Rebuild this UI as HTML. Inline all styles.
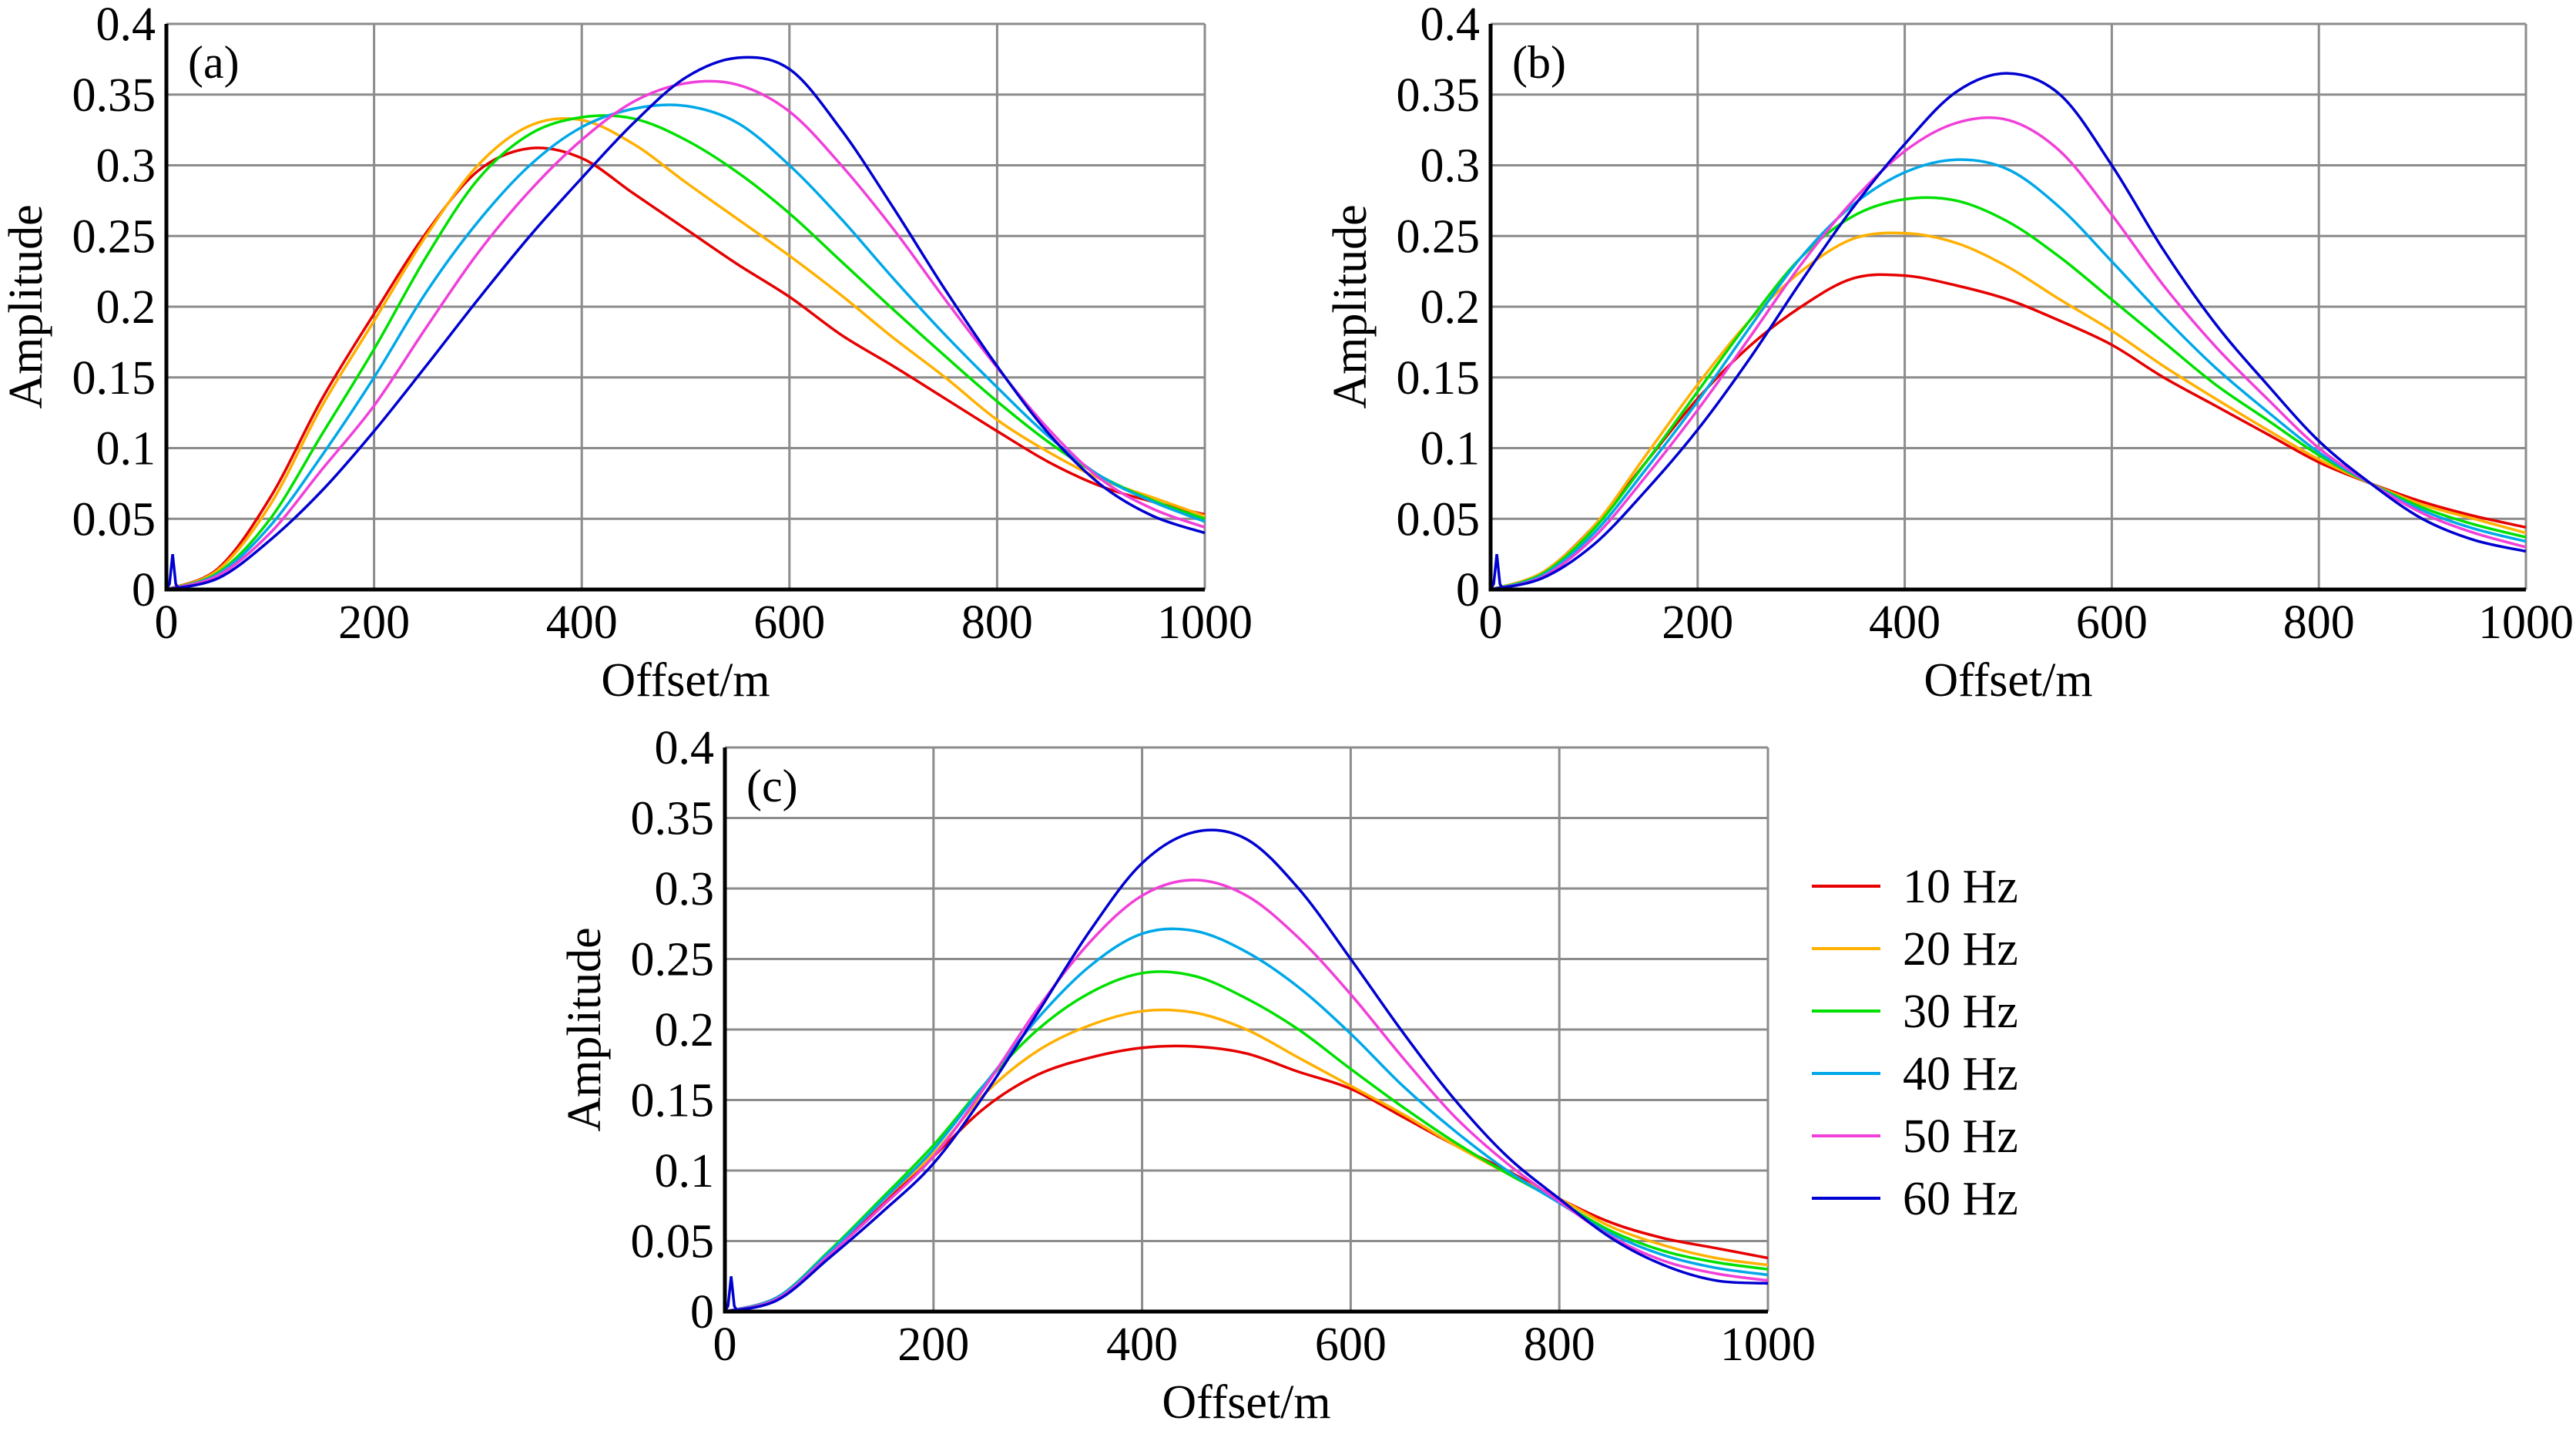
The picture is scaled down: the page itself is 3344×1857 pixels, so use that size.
<!DOCTYPE html>
<html><head><meta charset="utf-8"><style>
html,body{margin:0;padding:0;background:#fff;}
svg{display:block;}
text{font-family:"Liberation Serif","Times New Roman",serif;}
</style></head><body>
<svg id="fig" width="3344" height="1857" viewBox="0 0 3344 1857"></svg>
<script>
const offsets=[0,50,100,150,200,250,300,350,400,450,500,550,600,650,700,750,800,850,900,950,1000];
const seriesNames=["10 Hz","20 Hz","30 Hz","40 Hz","50 Hz","60 Hz"];
const seriesColors=["#e60000","#ffb000","#00e000","#00a8e8","#f040d8","#0000d0"];
const xTicks=[0,200,400,600,800,1000];
const yTicks=[0,0.05,0.1,0.15,0.2,0.25,0.3,0.35,0.4];
const yTickLabels=["0","0.05","0.1","0.15","0.2","0.25","0.3","0.35","0.4"];
const spikeX=[0,3,6,9,12];
const spikeY=[0,0.004,0.025,0.004,0];
const a10=[0,0.015,0.065,0.135,0.195,0.252,0.296,0.312,0.305,0.28,0.255,0.23,0.207,0.18,0.158,0.135,0.112,0.09,0.073,0.062,0.053];
const a20=[0,0.014,0.06,0.13,0.19,0.25,0.3,0.328,0.332,0.315,0.288,0.262,0.236,0.208,0.178,0.15,0.12,0.097,0.078,0.065,0.052];
const a30=[0,0.012,0.05,0.11,0.17,0.235,0.29,0.322,0.334,0.333,0.318,0.295,0.266,0.232,0.198,0.165,0.133,0.104,0.08,0.063,0.05];
const a40=[0,0.011,0.045,0.095,0.15,0.21,0.26,0.3,0.327,0.34,0.342,0.33,0.3,0.262,0.22,0.18,0.143,0.108,0.08,0.062,0.048];
const a50=[0,0.01,0.04,0.085,0.13,0.185,0.238,0.282,0.318,0.345,0.358,0.357,0.338,0.3,0.255,0.205,0.157,0.113,0.078,0.057,0.044];
const a60=[0,0.008,0.035,0.07,0.112,0.158,0.205,0.25,0.291,0.33,0.362,0.376,0.368,0.325,0.27,0.212,0.158,0.11,0.074,0.052,0.04];
const b10=[0,0.012,0.045,0.09,0.135,0.172,0.2,0.22,0.222,0.215,0.205,0.19,0.173,0.15,0.13,0.11,0.09,0.075,0.062,0.052,0.044];
const b20=[0,0.012,0.045,0.095,0.145,0.19,0.225,0.248,0.252,0.245,0.228,0.205,0.183,0.158,0.135,0.113,0.092,0.075,0.06,0.05,0.04];
const b30=[0,0.011,0.043,0.09,0.14,0.19,0.235,0.264,0.276,0.275,0.26,0.235,0.205,0.175,0.145,0.12,0.095,0.075,0.058,0.046,0.037];
const b40=[0,0.01,0.04,0.085,0.133,0.185,0.235,0.272,0.295,0.304,0.297,0.27,0.232,0.193,0.157,0.126,0.097,0.075,0.056,0.043,0.034];
const b50=[0,0.009,0.037,0.08,0.127,0.178,0.23,0.275,0.31,0.33,0.332,0.31,0.265,0.215,0.172,0.135,0.1,0.075,0.054,0.04,0.03];
const b60=[0,0.008,0.032,0.07,0.113,0.163,0.218,0.27,0.315,0.352,0.365,0.35,0.3,0.24,0.188,0.145,0.105,0.075,0.05,0.035,0.027];
const c10=[0,0.01,0.04,0.075,0.11,0.145,0.168,0.18,0.187,0.188,0.183,0.17,0.158,0.138,0.118,0.1,0.08,0.063,0.052,0.045,0.038];
const c20=[0,0.01,0.042,0.078,0.112,0.155,0.185,0.203,0.213,0.212,0.2,0.18,0.16,0.14,0.118,0.098,0.08,0.06,0.047,0.038,0.033];
const c30=[0,0.01,0.043,0.08,0.118,0.162,0.2,0.226,0.24,0.238,0.222,0.2,0.172,0.145,0.12,0.098,0.078,0.057,0.043,0.035,0.03];
const c40=[0,0.01,0.042,0.078,0.115,0.162,0.208,0.245,0.268,0.27,0.255,0.23,0.197,0.16,0.128,0.1,0.077,0.055,0.04,0.031,0.026];
const c50=[0,0.009,0.04,0.074,0.11,0.16,0.215,0.262,0.295,0.306,0.295,0.265,0.225,0.18,0.138,0.105,0.078,0.053,0.036,0.027,0.022];
const c60=[0,0.008,0.038,0.07,0.105,0.155,0.212,0.27,0.318,0.34,0.335,0.3,0.25,0.198,0.15,0.11,0.08,0.052,0.033,0.022,0.02];

const panels=[
 {id:"a",label:"(a)",L:216,R:1564,T:31,B:765,series:[a10,a20,a30,a40,a50,a60]},
 {id:"b",label:"(b)",L:1935,R:3279,T:31,B:765,series:[b10,b20,b30,b40,b50,b60]},
 {id:"c",label:"(c)",L:941,R:2295,T:970,B:1702,series:[c10,c20,c30,c40,c50,c60]}
];
const NS="http://www.w3.org/2000/svg";
const svg=document.getElementById("fig");
const FF='"Liberation Serif", "Times New Roman", serif';
function mk(tag,attrs,parent){const e=document.createElementNS(NS,tag);for(const k in attrs)e.setAttribute(k,attrs[k]);if(tag==="text")e.setAttribute("font-family",FF);(parent||svg).appendChild(e);return e;}
function smoothPath(pts){
 let d="M"+pts[0][0].toFixed(1)+","+pts[0][1].toFixed(1);
 for(let i=0;i<pts.length-1;i++){
  const p0=pts[Math.max(0,i-1)],p1=pts[i],p2=pts[i+1],p3=pts[Math.min(pts.length-1,i+2)];
  const c1=[p1[0]+(p2[0]-p0[0])/6,p1[1]+(p2[1]-p0[1])/6];
  const c2=[p2[0]-(p3[0]-p1[0])/6,p2[1]-(p3[1]-p1[1])/6];
  d+="C"+c1[0].toFixed(1)+","+c1[1].toFixed(1)+" "+c2[0].toFixed(1)+","+c2[1].toFixed(1)+" "+p2[0].toFixed(1)+","+p2[1].toFixed(1);
 }
 return d;
}
panels.forEach(p=>{
 const g=mk("g",{});
 
 
 const xs=v=>p.L+(v/1000)*(p.R-p.L);
 const ys=v=>p.B-(v/0.4)*(p.B-p.T);
 xTicks.forEach(t=>{
  const l=mk("line",{x1:xs(t),x2:xs(t),y1:p.T,y2:p.B,stroke:"#8c8c8c","stroke-width":3},g);
  
  
  const tx=mk("text",{x:xs(t),y:p.B+63,"font-size":62,"text-anchor":"middle",fill:"#000"},g);
  tx.textContent=t;
  
  
 });
 yTicks.forEach((t,i)=>{
  const l=mk("line",{x1:p.L,x2:p.R,y1:ys(t),y2:ys(t),stroke:"#8c8c8c","stroke-width":3},g);
  
  
  const tx=mk("text",{x:p.L-14,y:ys(t)+21,"font-size":62,"text-anchor":"end",fill:"#000"},g);
  tx.textContent=yTickLabels[i];
  
  
 });
 p.series.forEach((vals,si)=>{
  const pts=offsets.map((o,i)=>[xs(o),ys(vals[i])]);
  const path=mk("path",{d:smoothPath(pts),fill:"none",stroke:seriesColors[si],"stroke-width":3.5,"stroke-linejoin":"round"},g);
  
  
 });
 const sp=mk("polyline",{points:spikeX.map((x,i)=>xs(x)+","+ys(spikeY[i])).join(" "),fill:"none",stroke:seriesColors[5],"stroke-width":3.5},g);
 
 
 const ax=mk("path",{d:`M${p.L},${p.T}L${p.L},${p.B}L${p.R},${p.B}`,fill:"none",stroke:"#000","stroke-width":5},g);
 
 
 const lab=mk("text",{x:p.L+28,y:p.T+70,"font-size":60,fill:"#000"},g);
 lab.textContent=p.label;
 
 
 const xt=mk("text",{x:(p.L+p.R)/2,y:p.B+138,"font-size":62,"text-anchor":"middle",fill:"#000"},g);
 xt.textContent="Offset/m";
 
 
 const cy=(p.T+p.B)/2, cx=p.L-162;
 const yt=mk("text",{x:cx,y:cy,"font-size":62,"text-anchor":"middle",fill:"#000",transform:`rotate(-90 ${cx} ${cy})`},g);
 yt.textContent="Amplitude";
 
 
});
const lg=mk("g",{});


seriesNames.forEach((n,i)=>{
 const y=1150+i*81;
 const l=mk("line",{x1:2352,x2:2441,y1:y,y2:y,stroke:seriesColors[i],"stroke-width":4},lg);
 
 
 const t=mk("text",{x:2470,y:y+21,"font-size":62,fill:"#000"},lg);
 t.textContent=n;
 
 
});
</script>
</body></html>
